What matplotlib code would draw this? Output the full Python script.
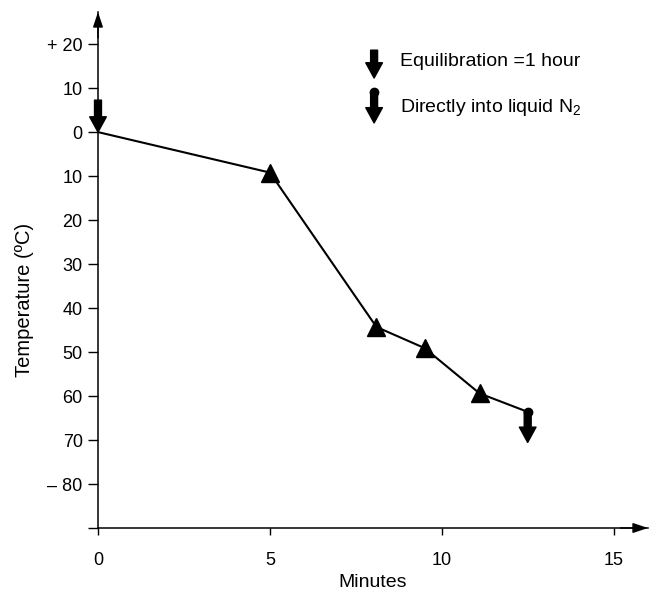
import matplotlib
matplotlib.use("Agg")
import matplotlib.pyplot as plt
import matplotlib.transforms as mtransforms

plt.rcParams["font.family"] = ["Liberation Sans", "DejaVu Sans"]

# cooling curve
minutes = [0, 5.0, 8.1, 9.5, 11.1, 12.5]
temps = [0, -9.2, -44.3, -49.1, -59.4, -63.6]

yticks = [20, 10, 0, -10, -20, -30, -40, -50, -60, -70, -80, -90]
ytick_labels = ["+ 20", "10", "0", "10", "20", "30", "40", "50", "60", "70", "\u2013 80", ""]
xticks = [0, 5, 10, 15]
xtick_labels = ["0", "5", "10", "15"]

legend_texts = ["Equilibration =1 hour", r"Directly into liquid N$_\mathregular{2}$"]

fig = plt.figure(figsize=(6.51, 5.97), dpi=100)
ax = fig.add_axes([98 / 651, 69 / 597, 550 / 651, 516 / 597])
ax.set_xlim(0, 16)
ax.set_ylim(-90, 27.3)

for s in ("top", "right"):
    ax.spines[s].set_visible(False)
for s in ("left", "bottom"):
    ax.spines[s].set_linewidth(1.1)

ax.set_yticks(yticks)
ax.set_yticklabels(ytick_labels)
ax.set_xticks(xticks)
ax.set_xticklabels(xtick_labels)
ax.tick_params(axis="y", direction="out", length=7, width=1, pad=4, labelsize=13)
ax.tick_params(axis="x", direction="out", length=5, width=1, pad=12, labelsize=13)

ax.set_xlabel("Minutes", fontsize=14, labelpad=4)
ax.set_ylabel("Temperature (\u00baC)", fontsize=14.5)
ax.yaxis.set_label_coords(-0.117, 0.442)

# axis arrowheads
ax_arrow = dict(arrowstyle="-|>,head_length=0.9,head_width=0.3", color="k",
                lw=1.1, shrinkA=0, shrinkB=0, mutation_scale=10)
ax.annotate("", xy=(0, 1), xytext=(0, 0.95), xycoords="axes fraction",
            arrowprops=ax_arrow, annotation_clip=False)
ax.annotate("", xy=(1, 0), xytext=(0.95, 0), xycoords="axes fraction",
            arrowprops=ax_arrow, annotation_clip=False)

# curve
ax.plot(minutes, temps, color="k", lw=1.5, zorder=3)
ax.plot(minutes[1:-1], temps[1:-1], "k^", markersize=12.5, zorder=4)
ax.plot(minutes[-1], temps[-1], "ko", markersize=6, zorder=4)

big_arrow = dict(arrowstyle="simple,head_length=1.1,head_width=1.2,tail_width=0.5",
                 color="k", shrinkA=0, shrinkB=0, mutation_scale=10)

# equilibration arrow at the start
ax.annotate("", xy=(minutes[0], temps[0]), xytext=(0, 23), textcoords="offset points",
            arrowprops=big_arrow, annotation_clip=False, zorder=5)

# plunge arrow at the end
below = mtransforms.offset_copy(ax.transData, fig=fig, x=0, y=-22, units="points")
ax.annotate("", xy=(minutes[-1], temps[-1]), xycoords=below,
            xytext=(minutes[-1], temps[-1]), textcoords="data",
            arrowprops=big_arrow, zorder=5)

# key
ax.annotate("", xy=(0.502, 0.872), xytext=(0.502, 0.926), xycoords="axes fraction",
            arrowprops=big_arrow)
ax.text(0.549, 0.905, legend_texts[0], transform=ax.transAxes, fontsize=14,
        va="center", ha="left")
ax.plot(0.502, 0.845, "ko", markersize=6, transform=ax.transAxes, clip_on=False)
ax.annotate("", xy=(0.502, 0.785), xytext=(0.502, 0.845), xycoords="axes fraction",
            arrowprops=big_arrow)
ax.text(0.549, 0.814, legend_texts[1], transform=ax.transAxes, fontsize=14,
        va="center", ha="left")

fig.savefig("out.png", dpi=100)
